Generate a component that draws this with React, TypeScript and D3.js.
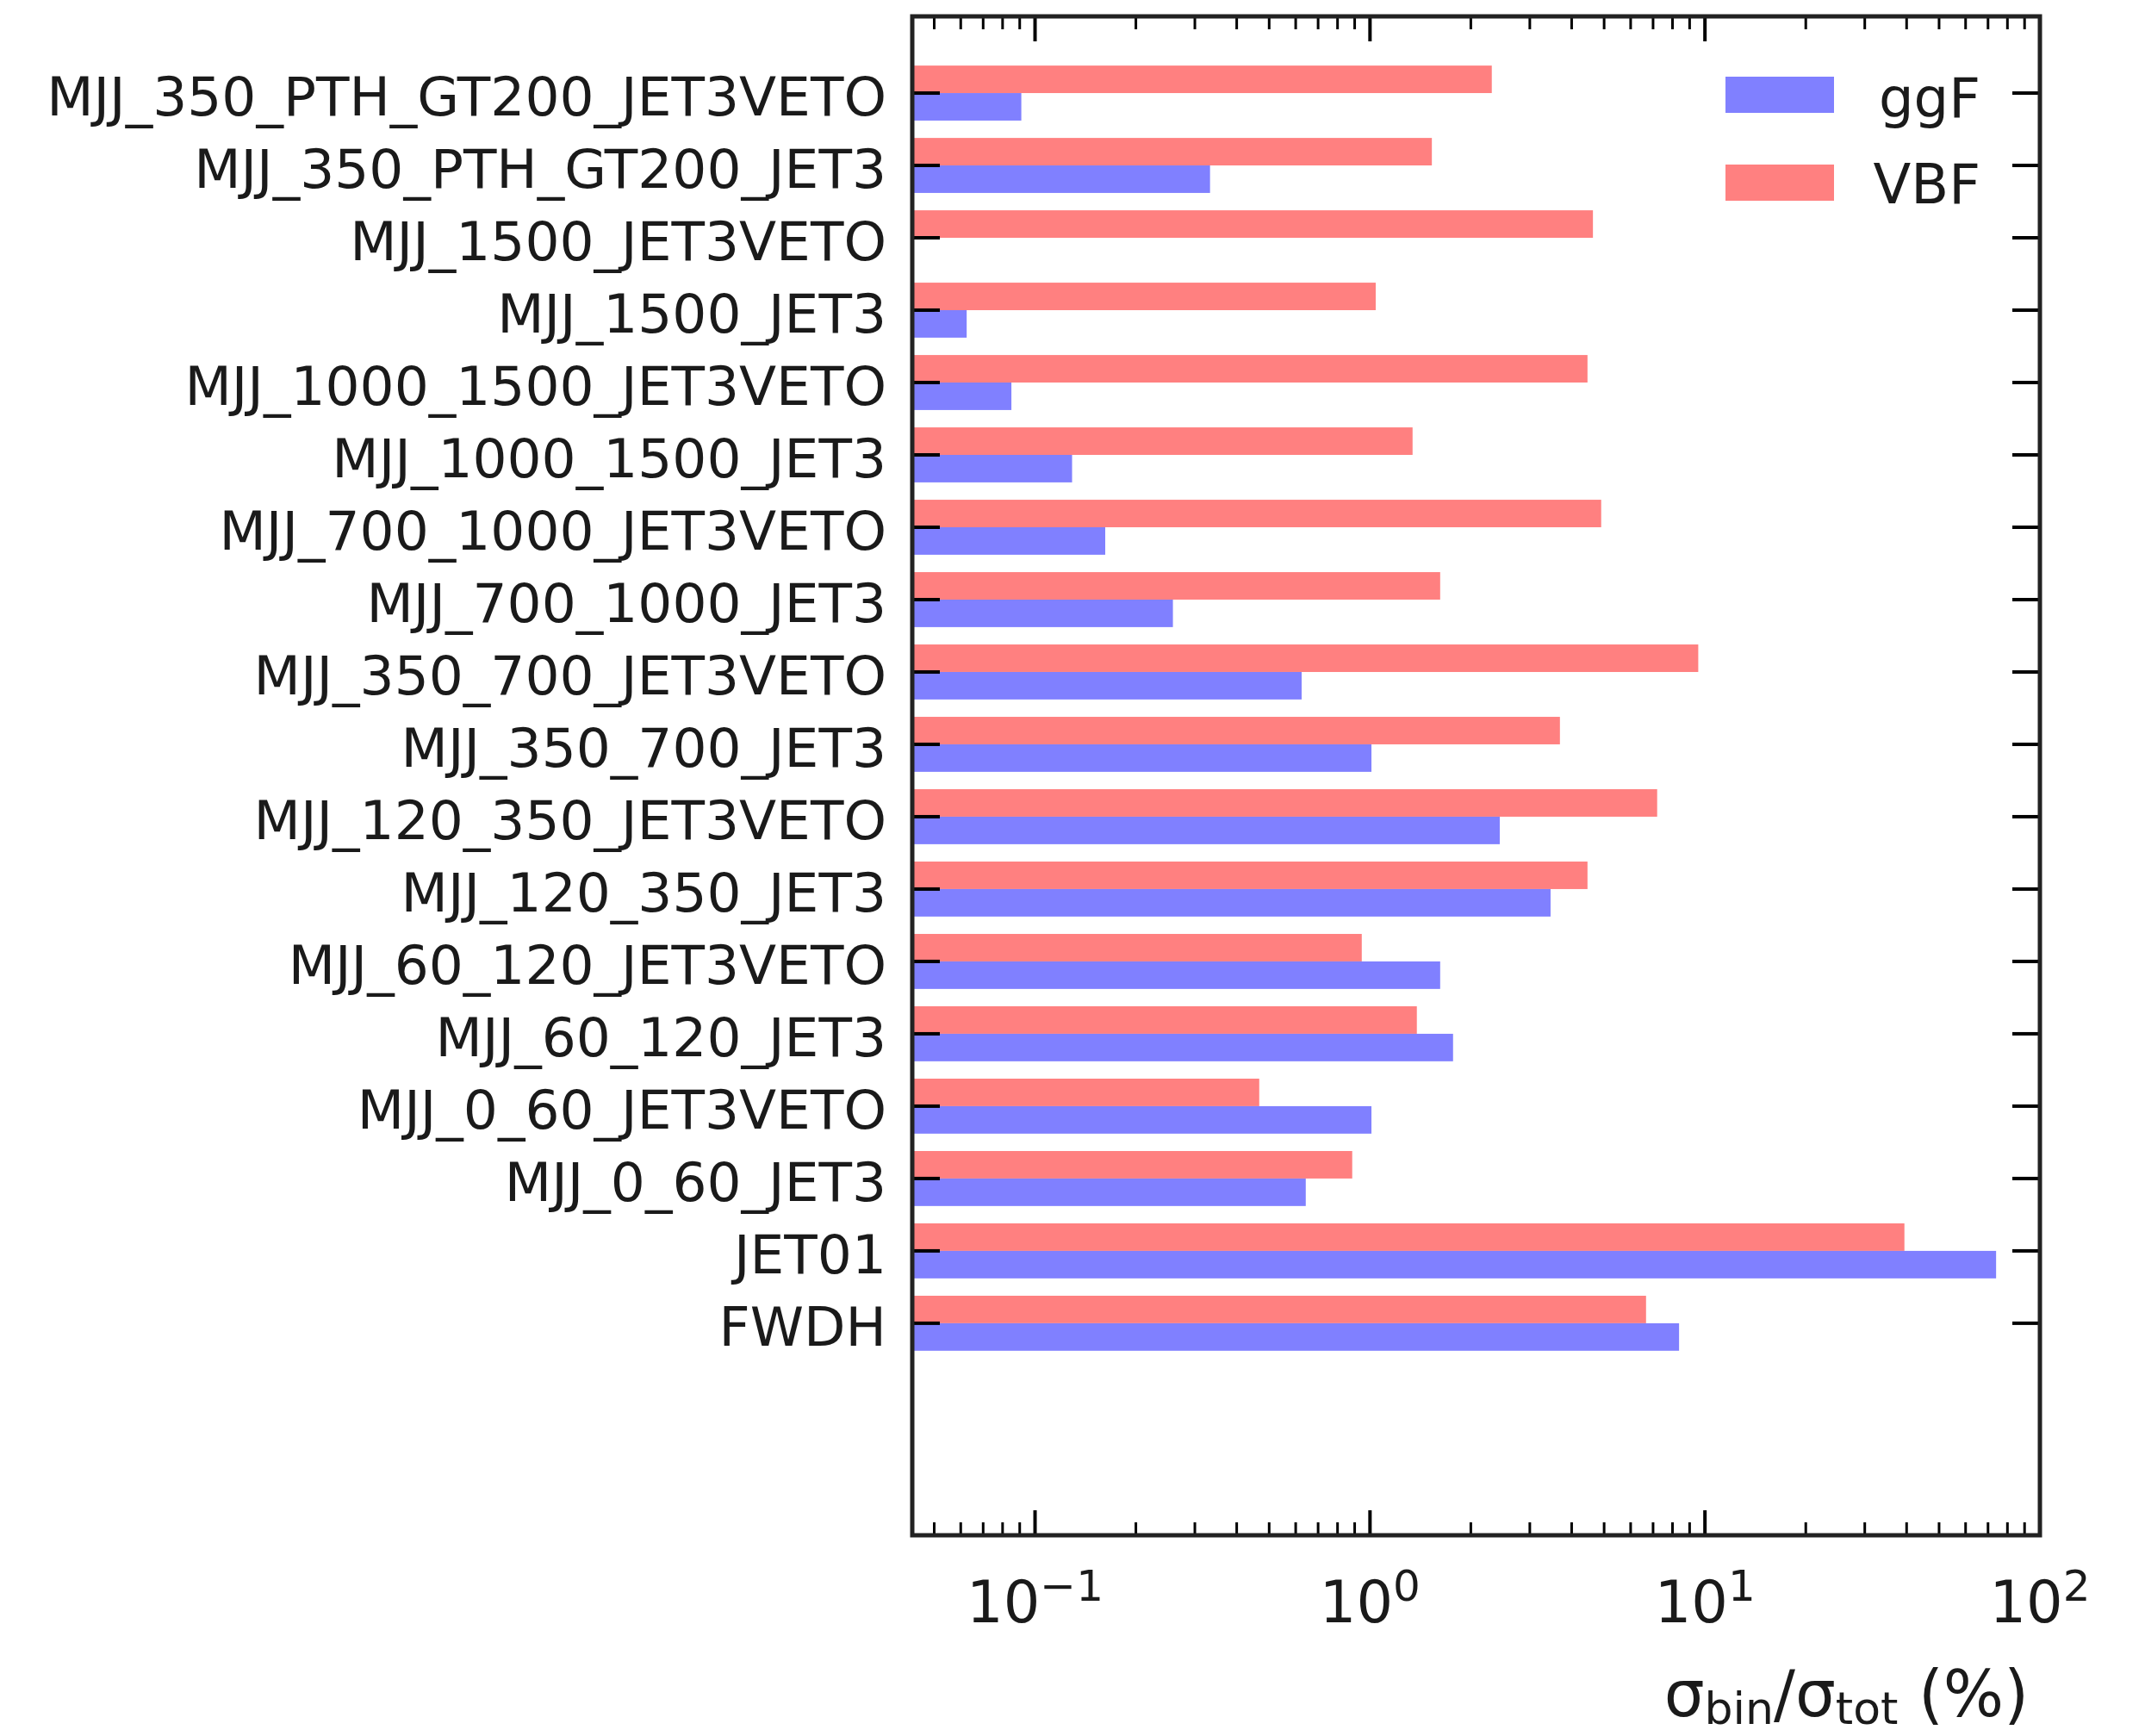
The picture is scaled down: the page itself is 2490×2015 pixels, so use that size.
import * as d3 from 'd3'
import React from 'react'

const categories = [
  'MJJ_350_PTH_GT200_JET3VETO', 'MJJ_350_PTH_GT200_JET3', 'MJJ_1500_JET3VETO', 'MJJ_1500_JET3',
  'MJJ_1000_1500_JET3VETO', 'MJJ_1000_1500_JET3', 'MJJ_700_1000_JET3VETO', 'MJJ_700_1000_JET3',
  'MJJ_350_700_JET3VETO', 'MJJ_350_700_JET3', 'MJJ_120_350_JET3VETO', 'MJJ_120_350_JET3',
  'MJJ_60_120_JET3VETO', 'MJJ_60_120_JET3', 'MJJ_0_60_JET3VETO', 'MJJ_0_60_JET3', 'JET01', 'FWDH',
]
// percent of total cross section, same order as categories (0 = not drawn on log axis)
const ggF = [0.091, 0.333, 0, 0.0625, 0.085, 0.129, 0.162, 0.258, 0.625, 1.01, 2.44, 3.46, 1.62, 1.77, 1.01, 0.643, 74, 8.37]
const VBF = [2.31, 1.53, 4.63, 1.04, 4.46, 1.34, 4.9, 1.62, 9.55, 3.69, 7.2, 4.46, 0.945, 1.38, 0.467, 0.885, 39.4, 6.67]
const xMajor = [-1, 0, 1, 2]

const W = 2490, H = 2015
const left = 1059, right = 2368, top = 19, bottom = 1782
const font = 'DejaVu Sans, sans-serif'

const App = () => {
  const x = d3.scaleLog().domain([0.043, 100]).range([left, right])
  const y = d3.scaleLinear().domain([-2.93, 18.06]).range([bottom, top])
  const n = categories.length
  const bh = 0.38
  const pos = (i: number) => n - 1 - i

  const [d0, d1] = x.domain()
  const minor: number[] = []
  for (let e = -2; e <= 2; e++) {
    for (let k = 2; k <= 9; k++) {
      const v = k * Math.pow(10, e)
      if (v >= d0 && v <= d1) minor.push(v)
    }
  }

  return (
    <svg width={W} height={H} style={{ position: 'absolute', left: 0, top: 0, background: '#fff' }} fontFamily={font}>
      <defs>
        <clipPath id="plot"><rect x={left} y={top} width={right - left} height={bottom - top} /></clipPath>
      </defs>
      <g clipPath="url(#plot)">
        {categories.map((c, i) => (
          <g key={c}>
            {VBF[i] > 0 && <rect x={left} y={y(pos(i) + bh)} width={x(VBF[i]) - left} height={y(pos(i)) - y(pos(i) + bh)} fill="#ff8080" />}
            {ggF[i] > 0 && <rect x={left} y={y(pos(i))} width={x(ggF[i]) - left} height={y(pos(i) - bh) - y(pos(i))} fill="#8080ff" />}
          </g>
        ))}
      </g>

      {/* y ticks, both sides, inward */}
      {categories.map((c, i) => (
        <g key={'t' + c}>
          <line x1={left} x2={left + 32} y1={y(pos(i))} y2={y(pos(i))} stroke="#000" strokeWidth={4} />
          <line x1={right} x2={right - 32} y1={y(pos(i))} y2={y(pos(i))} stroke="#000" strokeWidth={4} />
          <text x={1029} y={y(pos(i)) + 26} textAnchor="end" fontSize={63} fill="#1a1a1a">{c}</text>
        </g>
      ))}

      {/* x ticks top & bottom */}
      {minor.map(v => (
        <g key={'m' + v}>
          <line x1={x(v)} x2={x(v)} y1={bottom} y2={bottom - 15} stroke="#000" strokeWidth={3} />
          <line x1={x(v)} x2={x(v)} y1={top} y2={top + 15} stroke="#000" strokeWidth={3} />
        </g>
      ))}
      {xMajor.map(e => (
        <g key={'M' + e}>
          <line x1={x(Math.pow(10, e))} x2={x(Math.pow(10, e))} y1={bottom} y2={bottom - 29} stroke="#000" strokeWidth={4} />
          <line x1={x(Math.pow(10, e))} x2={x(Math.pow(10, e))} y1={top} y2={top + 29} stroke="#000" strokeWidth={4} />
          <text x={x(Math.pow(10, e))} y={1883} textAnchor="middle" fontSize={67} fill="#1a1a1a">
            10<tspan dy={-25} fontSize={50}>{e < 0 ? '\u2212' + -e : e}</tspan>
          </text>
        </g>
      ))}

      <rect x={left} y={top} width={right - left} height={bottom - top} fill="none" stroke="#222" strokeWidth={5} />

      {/* legend */}
      <rect x={2003} y={89} width={126} height={42} fill="#8080ff" />
      <rect x={2003} y={191} width={126} height={42} fill="#ff8080" />
      <text x={2299} y={136} textAnchor="end" fontSize={64} fill="#1a1a1a">ggF</text>
      <text x={2299} y={236} textAnchor="end" fontSize={64} fill="#1a1a1a">VBF</text>

      <text x={2355} y={1992} textAnchor="end" fontSize={74} fill="#1a1a1a">
        σ<tspan dy={9} fontSize={52}>bin</tspan><tspan dy={-9}>/σ</tspan><tspan dy={9} fontSize={52}>tot</tspan><tspan dy={-9}> (%)</tspan>
      </text>
    </svg>
  )
}

export default App
